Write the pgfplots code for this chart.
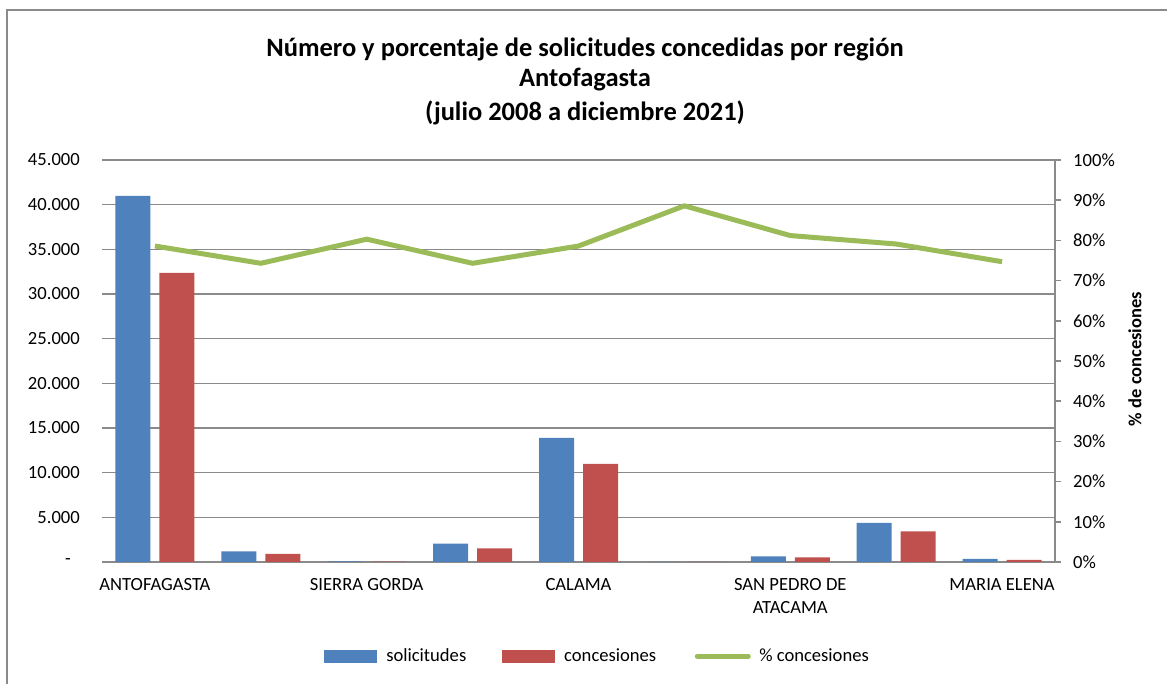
\documentclass[border=0pt]{standalone}
\usepackage{fontspec}
\setmainfont{Carlito}
\usepackage{pgfplots}
\pgfplotsset{compat=1.18}
\definecolor{cblue}{HTML}{4F81BD}
\definecolor{cred}{HTML}{C0504D}
\definecolor{cgreen}{HTML}{9BBB59}
\definecolor{cgrid}{HTML}{8A8A8A}
\begin{document}
\begin{tikzpicture}
\useasboundingbox (0pt,0pt) rectangle (1167pt,684pt);
\fill[white] (0pt,0pt) rectangle (1167pt,684pt);
\draw[cgrid, line width=1.5pt] (7pt,-20pt) -- (7pt,674pt) -- (1190pt,674pt);
\node[font=\bfseries\fontsize{26.5}{30}\selectfont, anchor=base] at (585pt,627pt) {Número y porcentaje de solicitudes concedidas por región};
\node[font=\bfseries\fontsize{26.5}{30}\selectfont, anchor=base] at (585pt,597pt) {Antofagasta};
\node[font=\bfseries\fontsize{26.5}{30}\selectfont, anchor=base] at (585pt,563pt) {(julio 2008 a diciembre 2021)};
\node[font=\bfseries\fontsize{18.5}{22}\selectfont, rotate=90] at (1135pt,325pt) {\% de concesiones};

\begin{axis}[
  at={(102pt,122pt)}, anchor=south west, scale only axis,
  width=953pt, height=402pt,
  xmin=-0.5, xmax=8.5, ymin=0, ymax=45000,
  scaled y ticks=false,
  axis x line*=bottom, axis y line*=left,
  y axis line style={draw=none},
  x axis line style={cgrid, line width=1.6pt, -},
  major tick length=0pt,
  xtick={0,2,4,6,8},
  xticklabels={ANTOFAGASTA,SIERRA GORDA,CALAMA,{SAN PEDRO DE\\ATACAMA},MARIA ELENA},
  xticklabel style={font=\fontsize{18.6}{23}\selectfont, align=center, inner sep=0pt, anchor=north, yshift=-16pt},
  ytick={0,5000,10000,15000,20000,25000,30000,35000,40000,45000},
  yticklabels={{-\hspace*{9pt}},5.000,10.000,15.000,20.000,25.000,30.000,35.000,40.000,45.000},
  yticklabel style={font=\fontsize{18.6}{22}\selectfont, inner sep=0pt, anchor=east, xshift=-22pt},
  ymajorgrids, grid style={cgrid, line width=1.6pt},
  clip=false,
]
\addplot[ybar, bar width=35pt, bar shift=-22pt, fill=cblue, draw=none] coordinates {
(0,40970) (1,1200) (2,60) (3,2050) (4,13880) (5,15) (6,640) (7,4370) (8,340)};
\addplot[ybar, bar width=35pt, bar shift=22pt, fill=cred, draw=none] coordinates {
(0,32350) (1,900) (2,48) (3,1530) (4,10970) (5,13) (6,530) (7,3440) (8,250)};
\end{axis}

\begin{axis}[
  at={(102pt,122pt)}, anchor=south west, scale only axis,
  width=953pt, height=402pt,
  xmin=-0.5, xmax=8.5, ymin=0, ymax=100,
  axis x line=none, axis y line*=right,
  y axis line style={cgrid, line width=1.6pt, -},
  ytick={0,10,...,100},
  yticklabels={0\%,10\%,20\%,30\%,40\%,50\%,60\%,70\%,80\%,90\%,100\%},
  major tick length=6pt, tick align=outside,
  tick style={cgrid, line width=1.6pt},
  yticklabel style={font=\fontsize{18.6}{22}\selectfont, inner sep=0pt, anchor=west, xshift=12pt},
  clip=false,
  legend style={draw=none, fill=none, at={(0.519,-0.234)}, anchor=center,
    legend columns=3, font=\fontsize{18.6}{22}\selectfont,
    nodes={inner sep=0pt},
    /tikz/every even column/.append style={column sep=36pt}},
]
\addlegendimage{legend image code/.code={\fill[cblue] (0pt,-5.75pt) rectangle (52pt,5.75pt); \path (0pt,0pt) (61.5pt,0pt);}}
\addlegendentry{solicitudes}
\addlegendimage{legend image code/.code={\fill[cred] (0pt,-5.75pt) rectangle (52pt,5.75pt); \path (0pt,0pt) (61.5pt,0pt);}}
\addlegendentry{concesiones}
\addplot[cgreen, line width=5pt, no marks, line join=round,
  legend image code/.code={\draw[cgreen, line width=5pt, line cap=round] (2.5pt,0pt) -- (53.5pt,0pt); \path (0pt,0pt) (62pt,0pt);}]
coordinates {(0,78.6) (1,74.3) (2,80.3) (3,74.3) (4,78.6) (5,88.6) (6,81.2) (7,79.1) (8,74.7)};
\addlegendentry{\% concesiones}
\end{axis}
\end{tikzpicture}
\end{document}
